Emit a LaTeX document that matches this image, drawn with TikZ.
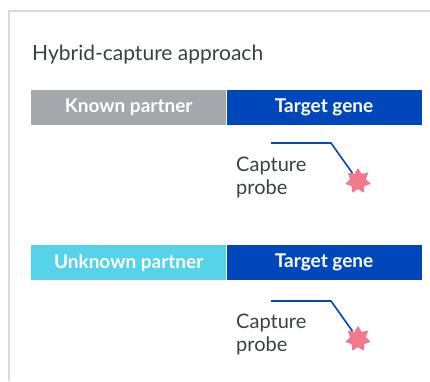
\documentclass[tikz,border=0pt]{standalone}
\usepackage{fontspec}
\setmainfont{Lato}
\usetikzlibrary{positioning}
\usetikzlibrary{shapes.geometric}

\definecolor{framegray}{HTML}{D9D9D9}
\definecolor{partnergray}{HTML}{A4A7AB}
\definecolor{genblue}{HTML}{0047BB}
\definecolor{partnercyan}{HTML}{56D3E8}
\definecolor{probepink}{HTML}{F07A8C}
\definecolor{textdark}{HTML}{3A4048}

\tikzset{
  bar/.style={minimum width=195pt, minimum height=35pt, inner sep=0pt,
    text=white, font=\fontsize{19}{22}\selectfont\bfseries},
  probetext/.style={align=left, text=textdark, inner sep=0pt,
    font=\fontsize{20}{23}\selectfont},
  probestar/.style={star, star points=7, star point ratio=1.6,
    fill=probepink, minimum size=26pt, inner sep=0pt},
  probeline/.style={genblue, line width=1.6pt}
}

\begin{document}
\begin{tikzpicture}[x=1pt, y=-1pt]
    \useasboundingbox (0,0) rectangle (430,381);
    \draw[framegray, line width=1.5pt] (9,381) -- (9,11) -- (431,11);

    \node[anchor=base west, inner sep=0pt, text=textdark,
      font=\fontsize{21}{24}\selectfont] (title) at (32,60) {Hybrid-capture approach};

    % known partner
    \node[bar, fill=partnergray, anchor=north west] (knownPartner) at (31,90) {Known partner};
    \node[bar, fill=genblue, right=0pt of knownPartner] (targetGeneA) {Target gene};
    \node[probetext, anchor=north west] (captureProbeA) at (236,157) {Capture\\probe};
    \node[probestar] (starA) at (358,181) {};
    \coordinate (probeStartA) at (271,143);
    \draw[probeline] (probeStartA) -- (331,143) -- (starA);

    % unknown partner
    \node[bar, fill=partnercyan, anchor=north west] (unknownPartner) at (31,245) {Unknown partner};
    \node[bar, fill=genblue, right=0pt of unknownPartner] (targetGeneB) {Target gene};
    \node[probetext, anchor=north west] (captureProbeB) at (236,314) {Capture\\probe};
    \node[probestar] (starB) at (358,339) {};
    \coordinate (probeStartB) at (271,301);
    \draw[probeline] (probeStartB) -- (331,301) -- (starB);
\end{tikzpicture}
\end{document}
